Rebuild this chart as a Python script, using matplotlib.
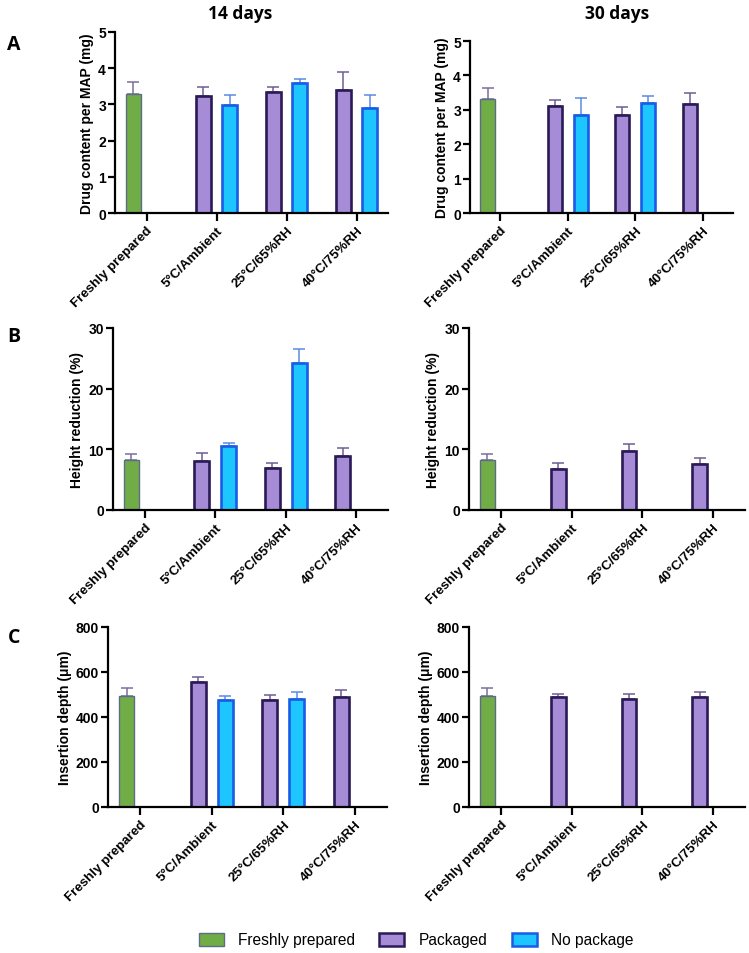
import matplotlib.pyplot as plt
import numpy as np
from matplotlib.patches import Patch

plt.rcParams['font.family'] = ['Liberation Sans', 'DejaVu Sans']

# категории по оси x
groups = ["Freshly prepared", "5°C/Ambient", "25°C/65%RH", "40°C/75%RH"]

# A: drug content per MAP (mg); NaN = нет столбца
drug_pk_14 = [3.28, 3.23, 3.34, 3.41]
drug_pk_14_sd = [0.34, 0.24, 0.13, 0.48]
drug_np_14 = [np.nan, 2.99, 3.60, 2.90]
drug_np_14_sd = [np.nan, 0.27, 0.10, 0.36]
drug_pk_30 = [3.31, 3.11, 2.85, 3.17]
drug_pk_30_sd = [0.31, 0.18, 0.22, 0.33]
drug_np_30 = [np.nan, 2.86, 3.21, np.nan]
drug_np_30_sd = [np.nan, 0.48, 0.19, np.nan]

# B: height reduction (%)
height_pk_14 = [8.3, 8.1, 7.0, 8.9]
height_pk_14_sd = [0.85, 1.3, 0.7, 1.4]
height_np_14 = [np.nan, 10.5, 24.3, np.nan]
height_np_14_sd = [np.nan, 0.6, 2.2, np.nan]
height_pk_30 = [8.3, 6.7, 9.65, 7.6]
height_pk_30_sd = [0.85, 1.05, 1.2, 1.0]
height_np_30 = [np.nan, np.nan, np.nan, np.nan]
height_np_30_sd = [np.nan, np.nan, np.nan, np.nan]

# C: insertion depth (um)
depth_pk_14 = [493, 557, 476, 490]
depth_pk_14_sd = [36, 22, 22, 30]
depth_np_14 = [np.nan, 474, 480, np.nan]
depth_np_14_sd = [np.nan, 19, 33, np.nan]
depth_pk_30 = [493, 487, 479, 490]
depth_pk_30_sd = [34, 17, 25, 20]
depth_np_30 = [np.nan, np.nan, np.nan, np.nan]
depth_np_30_sd = [np.nan, np.nan, np.nan, np.nan]

GREEN = "#70ad47"
PURPLE = "#a68bd6"
BLUE = "#1ec6ff"

W, H = 749, 954
fig = plt.figure(figsize=(W / 100, H / 100), dpi=100)


def box(x0, x1, ytop, ybot):
    return [x0 / W, 1 - ybot / H, (x1 - x0) / W, (ybot - ytop) / H]


def panel(rect, pk, pk_sd, np_, np_sd, ymax, yticks, ylabel):
    ax = fig.add_axes(rect)
    x = np.arange(len(groups))
    off, bw = 0.19, 0.21
    # первый столбец (freshly = зелёный, остальные фиолетовые)
    for i in range(len(groups)):
        if i == 0:
            fc, ec, erc, lw = GREEN, "#5d6b86", "#7a6d9c", 1.0
        else:
            fc, ec, erc, lw = PURPLE, "#2a1a55", "#6e5d94", 1.9
        ax.bar(x[i] - off, pk[i], bw, color=fc, edgecolor=ec, linewidth=lw, zorder=2)
        ax.errorbar(x[i] - off, pk[i], yerr=[[0], [pk_sd[i]]], color=erc,
                    capsize=4, elinewidth=1.1, capthick=1.1, zorder=1)
        if not np.isnan(np_[i]):
            ax.bar(x[i] + off, np_[i], bw, color=BLUE, edgecolor="#1a5ce6", linewidth=1.9, zorder=2)
            ax.errorbar(x[i] + off, np_[i], yerr=[[0], [np_sd[i]]], color="#5b8ae6",
                        capsize=4, elinewidth=1.1, capthick=1.1, zorder=1)
    ax.set_xlim(-0.45, 3.45)
    ax.set_ylim(0, ymax)
    ax.set_yticks(yticks)
    ax.set_xticks(x)
    ax.set_xticklabels(groups, rotation=45, ha="right", va="top", rotation_mode="anchor",
                       fontsize=9.6, fontweight="bold")
    for lab in ax.get_yticklabels():
        lab.set_fontweight("bold")
        lab.set_fontsize(10)
    ax.set_ylabel(ylabel, fontsize=10, fontweight="bold", labelpad=3)
    for s in ["top", "right"]:
        ax.spines[s].set_visible(False)
    for s in ["left", "bottom"]:
        ax.spines[s].set_linewidth(1.6)
    ax.tick_params(axis="both", width=1.6, length=5, pad=1.5)
    ax.tick_params(axis="x", length=6, pad=2)
    return ax


panel(box(115, 388, 33, 214), drug_pk_14, drug_pk_14_sd, drug_np_14, drug_np_14_sd,
      5, [0, 1, 2, 3, 4, 5], "Drug content per MAP (mg)")
panel(box(470, 733, 42, 214), drug_pk_30, drug_pk_30_sd, drug_np_30, drug_np_30_sd,
      5, [0, 1, 2, 3, 4, 5], "Drug content per MAP (mg)")
panel(box(113, 388, 329, 511), height_pk_14, height_pk_14_sd, height_np_14, height_np_14_sd,
      30, [0, 10, 20, 30], "Height reduction (%)")
panel(box(469, 745, 329, 511), height_pk_30, height_pk_30_sd, height_np_30, height_np_30_sd,
      30, [0, 10, 20, 30], "Height reduction (%)")
panel(box(108, 387, 628, 808), depth_pk_14, depth_pk_14_sd, depth_np_14, depth_np_14_sd,
      800, [0, 200, 400, 600, 800], "Insertion depth (\u03bcm)")
panel(box(469, 745, 628, 808), depth_pk_30, depth_pk_30_sd, depth_np_30, depth_np_30_sd,
      800, [0, 200, 400, 600, 800], "Insertion depth (\u03bcm)")

# заголовки и буквы панелей
fig.text(240 / W, 1 - 14 / H, "14 days", ha="center", va="center", fontsize=12.5,
         fontweight="bold", family=["Open Sans", "DejaVu Sans"])
fig.text(617 / W, 1 - 14 / H, "30 days", ha="center", va="center", fontsize=12.5,
         fontweight="bold", family=["Open Sans", "DejaVu Sans"])
for lbl, yy in [("A", 45), ("B", 337), ("C", 638)]:
    fig.text(14 / W, 1 - yy / H, lbl, ha="center", va="center", fontsize=14,
             fontweight="bold", family=["Open Sans", "DejaVu Sans"])

handles = [Patch(facecolor=GREEN, edgecolor="#5d6b86", linewidth=1.0, label="Freshly prepared"),
           Patch(facecolor=PURPLE, edgecolor="#2a1a55", linewidth=1.8, label="Packaged"),
           Patch(facecolor=BLUE, edgecolor="#1a5ce6", linewidth=1.8, label="No package")]
fig.legend(handles=handles, loc="center", bbox_to_anchor=(416 / W, 1 - 941 / H), ncol=3,
           frameon=False, fontsize=11.2, handlelength=1.6, handleheight=0.9,
           handletextpad=0.9, columnspacing=1.6)

fig.savefig("out.png", dpi=100)
